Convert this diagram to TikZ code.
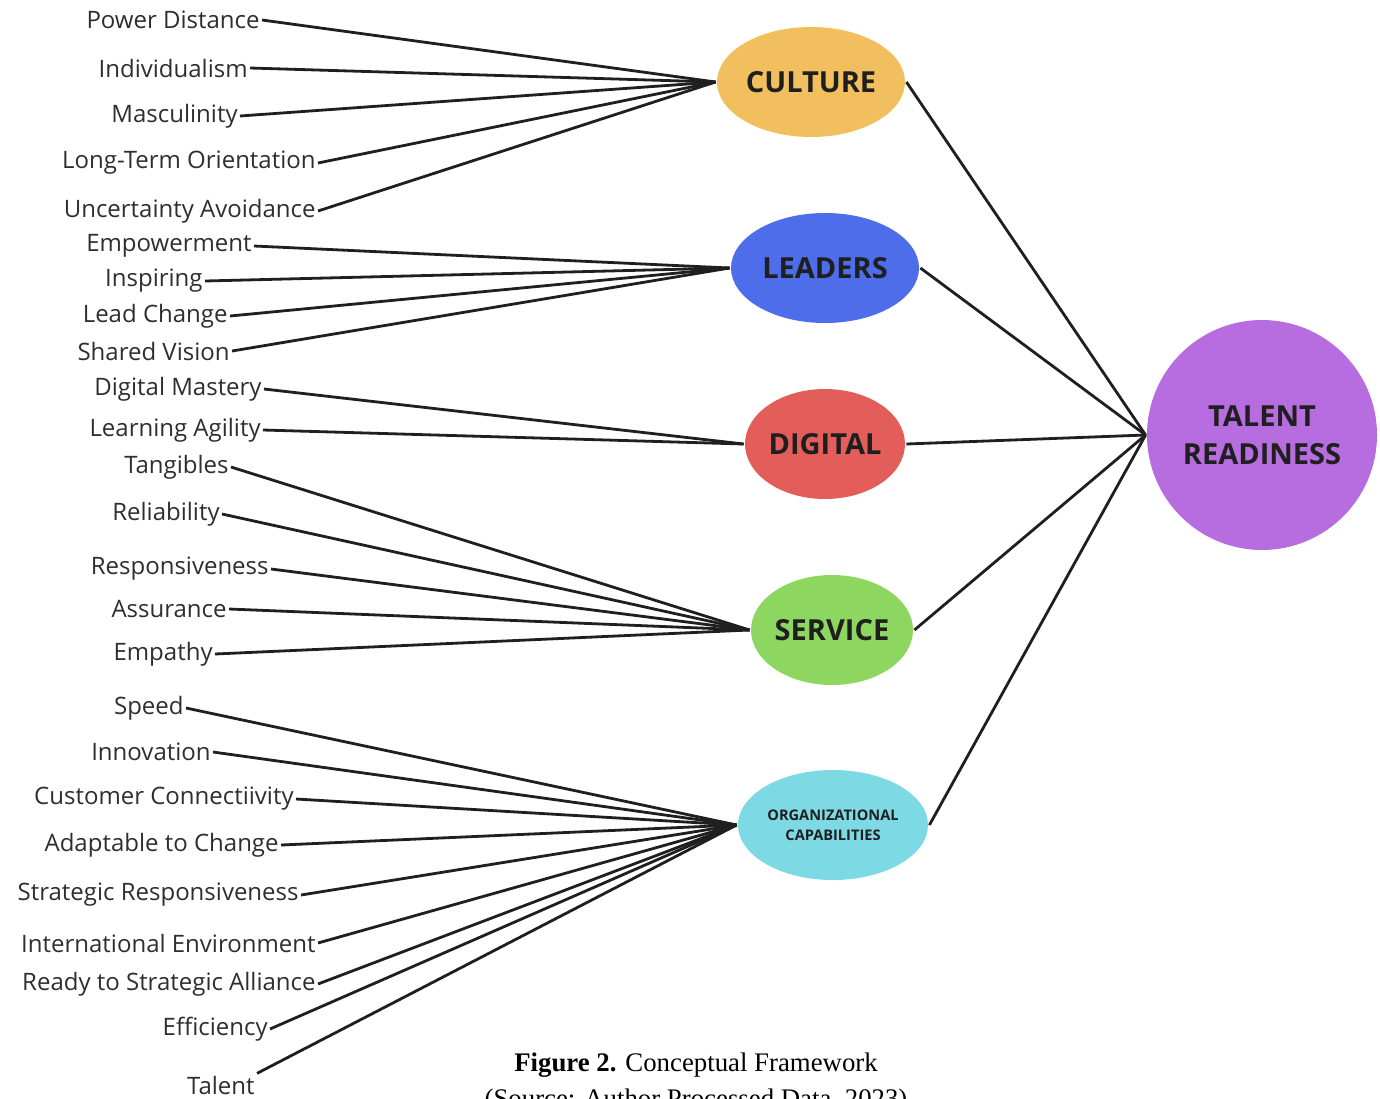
\documentclass[tikz,border=0pt]{standalone}
\usepackage{fontspec}
\setmainfont{Liberation Serif}
\newfontfamily\lblfont{Open Sans}
\usetikzlibrary{shapes.geometric,positioning}
\definecolor{culturecol}{HTML}{F2BF5E}
\definecolor{leaderscol}{HTML}{4E6DEB}
\definecolor{digitalcol}{HTML}{E35D5B}
\definecolor{servicecol}{HTML}{8DD65F}
\definecolor{orgcol}{HTML}{7DD9E3}
\definecolor{talentcol}{HTML}{B76CE0}

\begin{document}
\begin{tikzpicture}[x=0.5pt,y=-0.5pt,line width=1.4pt,
	factor/.style={anchor=east,inner sep=0.5pt,text=black!82,font=\lblfont\fontsize{12}{14}\selectfont},
	construct/.style={ellipse,draw=none,inner sep=0pt,align=center,text=black!88,font=\lblfont\bfseries\fontsize{14.5}{19}\selectfont},
	link/.style={draw=black!88}]
			\useasboundingbox (0,0) rectangle (1380,1098);
			% constructs
			\node[construct,fill=culturecol,minimum width=94pt,minimum height=55pt] (cul) at (811,82) {CULTURE};
			\node[construct,fill=leaderscol,minimum width=94pt,minimum height=55pt] (lead) at (825,268) {LEADERS};
			\node[construct,fill=digitalcol,minimum width=80pt,minimum height=55pt] (dig) at (825,444) {DIGITAL};
			\node[construct,fill=servicecol,minimum width=80pt,minimum height=55pt] (serv) at (832,630) {SERVICE};
			\node[construct,fill=orgcol,minimum width=95pt,minimum height=55pt,font=\lblfont\bfseries\fontsize{7.3}{10}\selectfont] (org) at (833,825) {ORGANIZATIONAL\\CAPABILITIES};
			\node[construct,circle,fill=talentcol,minimum size=115pt] (tr) at (1262,435) {TALENT\\READINESS};
			% culture
			\node[factor] (pd) at (262,20) {Power Distance};
			\node[factor] (ind) at (250,68) {Individualism};
			\node[factor] (mas) at (240,116) {Masculinity};
			\node[factor] (lto) at (318,163) {Long-Term Orientation};
			\node[factor] (ua) at (318,211) {Uncertainty Avoidance};
			% leaders
			\node[factor] (emp) at (254,246) {Empowerment};
			\node[factor] (insp) at (205,281) {Inspiring};
			\node[factor] (lc) at (230,316) {Lead Change};
			\node[factor] (sv) at (232,351) {Shared Vision};
			% digital
			\node[factor] (dm) at (264,389) {Digital Mastery};
			\node[factor] (la) at (263,430) {Learning Agility};
			% service
			\node[factor] (tang) at (231,467) {Tangibles};
			\node[factor] (rel) at (222,514) {Reliability};
			\node[factor] (resp) at (271,569) {Responsiveness};
			\node[factor] (assu) at (229,609) {Assurance};
			\node[factor] (empa) at (215,654) {Empathy};
			% organizational capabilities
			\node[factor] (spd) at (186,708) {Speed};
			\node[factor] (inno) at (213,752) {Innovation};
			\node[factor] (cc) at (296,799) {Customer Connectiivity};
			\node[factor] (atc) at (281,845) {Adaptable to Change};
			\node[factor] (sr) at (301,895) {Strategic Responsiveness};
			\node[factor] (ie) at (318,943) {International Environment};
			\node[factor] (rsa) at (318,984) {Ready to Strategic Alliance};
			\node[factor] (eff) at (270,1029) {Efficiency};
			\node[factor] (tal) at (257,1085) {Talent};
			% links
			\draw[link] (pd.east) -- (cul.west);
			\draw[link] (ind.east) -- (cul.west);
			\draw[link] (mas.east) -- (cul.west);
			\draw[link] (lto.east) -- (cul.west);
			\draw[link] (ua.east) -- (cul.west);
			\draw[link] (emp.east) -- (lead.west);
			\draw[link] (insp.east) -- (lead.west);
			\draw[link] (lc.east) -- (lead.west);
			\draw[link] (sv.east) -- (lead.west);
			\draw[link] (dm.east) -- (dig.west);
			\draw[link] (la.east) -- (dig.west);
			\draw[link] (tang.east) -- (serv.west);
			\draw[link] (rel.east) -- (serv.west);
			\draw[link] (resp.east) -- (serv.west);
			\draw[link] (assu.east) -- (serv.west);
			\draw[link] (empa.east) -- (serv.west);
			\draw[link] (spd.east) -- (org.west);
			\draw[link] (inno.east) -- (org.west);
			\draw[link] (cc.east) -- (org.west);
			\draw[link] (atc.east) -- (org.west);
			\draw[link] (sr.east) -- (org.west);
			\draw[link] (ie.east) -- (org.west);
			\draw[link] (rsa.east) -- (org.west);
			\draw[link] (eff.east) -- (org.west);
			\draw[link] (tal.north east) -- (org.west);
			\draw[link] (cul.east) -- (tr.west);
			\draw[link] (lead.east) -- (tr.west);
			\draw[link] (dig.east) -- (tr.west);
			\draw[link] (serv.east) -- (tr.west);
			\draw[link] (org.east) -- (tr.west);
			% caption
			\node[font=\fontsize{13.4}{16}\selectfont] (cap) at (696,1065) {\textbf{Figure 2.} Conceptual Framework};
			\node[font=\fontsize{13.4}{16}\selectfont,below=0pt of cap,inner sep=1pt] (src) {(Source: Author Processed Data, 2023)};
		\end{tikzpicture}
\end{document}
